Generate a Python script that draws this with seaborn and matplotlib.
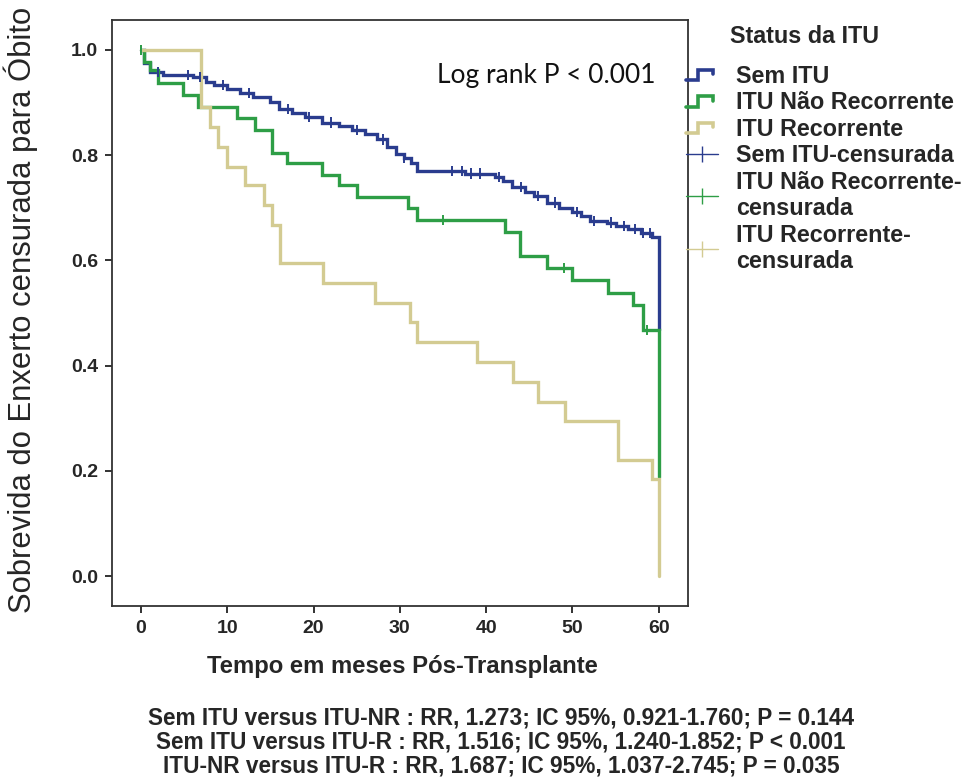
import numpy as np
import pandas as pd
import matplotlib
matplotlib.use("Agg")
import matplotlib.pyplot as plt
import seaborn as sns
from matplotlib.lines import Line2D
from matplotlib.legend_handler import HandlerBase

# ---------------- data ----------------
groups = ["Sem ITU", "ITU Não Recorrente", "ITU Recorrente"]
colors = ["#2A3C8E", "#2E9E46", "#D3CB92"]

time_sem = [0, 0.3, 1.0, 2.5, 6.0, 7.5, 8.5, 10.0, 11.5, 13.0, 15.0, 16.0, 17.5, 19.0,
            21.0, 23.0, 24.5, 26.0, 27.3, 28.5, 29.5, 30.5, 31.3, 32.0, 37.5, 41.0,
            42.0, 43.0, 44.5, 45.5, 47.0, 48.5, 50.0, 51.0, 52.0, 54.0, 55.0, 56.5,
            58.0, 59.2, 60.0]
surv_sem = [1.0, 0.975, 0.958, 0.953, 0.948, 0.940, 0.933, 0.925, 0.918, 0.910, 0.902,
            0.888, 0.880, 0.872, 0.862, 0.855, 0.848, 0.840, 0.830, 0.815, 0.803, 0.795,
            0.785, 0.770, 0.765, 0.758, 0.750, 0.740, 0.730, 0.722, 0.710, 0.700, 0.692,
            0.685, 0.675, 0.672, 0.665, 0.660, 0.652, 0.645, 0.468]

time_nr = [0, 0.3, 1.0, 2.0, 4.9, 6.6, 11.1, 13.2, 15.2, 16.9, 21.0, 23.0, 25.0, 30.9,
           32.0, 42.2, 43.9, 47.0, 50.0, 54.1, 57.0, 58.2, 60.0]
surv_nr = [1.0, 0.977, 0.962, 0.937, 0.914, 0.892, 0.871, 0.848, 0.804, 0.785, 0.762,
           0.743, 0.721, 0.700, 0.677, 0.654, 0.608, 0.585, 0.563, 0.538, 0.515, 0.468,
           0.188]

time_r = [0, 7.0, 8.0, 8.9, 10.0, 12.0, 14.2, 15.2, 16.1, 21.1, 27.1, 31.2, 32.0, 39.0,
          43.1, 46.0, 49.1, 55.3, 59.2, 60.0]
surv_r = [1.0, 0.892, 0.853, 0.816, 0.778, 0.743, 0.705, 0.667, 0.595, 0.557, 0.519,
          0.483, 0.445, 0.407, 0.369, 0.331, 0.295, 0.220, 0.184, 0.0]

censor_sem = [0.0, 2.0, 5.5, 6.8, 9.5, 12.5, 17.0, 19.5, 22.0, 25.0, 28.0, 30.5, 36.0,
              37.2, 38.2, 39.3, 41.5, 44.0, 46.0, 48.0, 50.5, 52.5, 54.5, 56.0, 57.2,
              58.2, 59.0]
censor_nr = [0.0, 35.0, 49.0, 58.6]
censor_r = []

x_ticks = [0, 10, 20, 30, 40, 50, 60]
y_ticks = [0.0, 0.2, 0.4, 0.6, 0.8, 1.0]

legend_title = "Status da ITU"
legend_labels = ["Sem ITU", "ITU Não Recorrente", "ITU Recorrente",
                 "Sem ITU-censurada", "ITU Não Recorrente-\ncensurada",
                 "ITU Recorrente-\ncensurada"]

stats_lines = [
    "Sem ITU versus ITU-NR : RR, 1.273; IC 95%, 0.921-1.760; P = 0.144",
    "Sem ITU versus ITU-R : RR, 1.516; IC 95%, 1.240-1.852; P < 0.001",
    "ITU-NR versus ITU-R : RR, 1.687; IC 95%, 1.037-2.745; P = 0.035",
]

# ---------------- build frames ----------------
curves = pd.concat([
    pd.DataFrame({"t": time_sem, "s": surv_sem, "g": groups[0]}),
    pd.DataFrame({"t": time_nr, "s": surv_nr, "g": groups[1]}),
    pd.DataFrame({"t": time_r, "s": surv_r, "g": groups[2]}),
], ignore_index=True)


def surv_at(times, survs, t):
    idx = np.searchsorted(np.asarray(times), t, side="right") - 1
    return np.asarray(survs)[idx]


cens = pd.concat([
    pd.DataFrame({"t": censor_sem, "s": surv_at(time_sem, surv_sem, censor_sem), "g": groups[0]}),
    pd.DataFrame({"t": censor_nr, "s": surv_at(time_nr, surv_nr, censor_nr), "g": groups[1]}),
], ignore_index=True)

# ---------------- plot ----------------
sns.set_style("ticks")
plt.rcParams["font.family"] = ["Liberation Sans", "DejaVu Sans"]

fig = plt.figure(figsize=(9.71, 7.83), dpi=100)
ax = fig.add_axes([112 / 971, 1 - 606 / 783, (688 - 112) / 971, (606 - 20) / 783])

palette = dict(zip(groups, colors))
sns.lineplot(data=curves, x="t", y="s", hue="g", hue_order=groups, palette=palette,
             estimator=None, drawstyle="steps-post", linewidth=2.4, legend=False, ax=ax,
             solid_joinstyle="miter")
sns.scatterplot(data=cens, x="t", y="s", hue="g", hue_order=groups, palette=palette,
                marker="|", s=55, linewidth=1.4, legend=False, ax=ax, zorder=3)

ax.set_xlim(-3.36, 63.4)
ax.set_ylim(-0.057, 1.057)
ax.set_xticks(x_ticks)
ax.set_yticks(y_ticks)
ax.set_xticklabels([str(v) for v in x_ticks], fontsize=14, fontweight="bold")
ax.set_yticklabels([f"{v:.1f}" for v in y_ticks], fontsize=14, fontweight="bold")
ax.tick_params(direction="out", length=5, width=1.3, color="#222222", pad=5)
for sp in ax.spines.values():
    sp.set_visible(True)
    sp.set_linewidth(1.3)
    sp.set_color("#333333")

ax.set_xlabel("Tempo em meses Pós-Transplante", fontsize=17.2, fontweight="bold")
ax.set_ylabel("Sobrevida do Enxerto censurada para Óbito", fontsize=22.3)
ax.xaxis.set_label_coords(0.504, -0.083)
ax.yaxis.set_label_coords(-0.128, 0.506)

ax.text(0.564, 0.906, "Log rank P < 0.001", transform=ax.transAxes, fontsize=19,
        family=["Lato", "DejaVu Sans"], va="center", ha="left", color="#111111")


# ---------------- legend ----------------
class StepHandler(HandlerBase):
    def create_artists(self, legend, orig_handle, xdescent, ydescent, width, height,
                       fontsize, trans):
        x0, y0 = -xdescent, -ydescent
        xs = x0 + width * np.array([0.0, 0.38, 0.38, 0.85, 0.85])
        ys = y0 + height * np.array([0.15, 0.15, 0.8, 0.8, 0.5])
        ln = Line2D(xs, ys, color=orig_handle.get_color(),
                    linewidth=orig_handle.get_linewidth(), solid_joinstyle="miter")
        ln.set_transform(trans)
        return [ln]


step_handles = [Line2D([], [], color=c, linewidth=2.6) for c in colors]
cens_handles = [Line2D([], [], color=c, linewidth=1.0, marker="|", markersize=12,
                       markeredgewidth=1.0) for c in colors]
handles = step_handles + cens_handles
hmap = {h: StepHandler() for h in step_handles}

leg = ax.legend(handles, legend_labels, handler_map=hmap, title=legend_title + "      ",
                loc="upper left", bbox_to_anchor=(686 / 971, 1 - 25 / 783),
                bbox_transform=fig.transFigure, frameon=False, borderpad=0,
                borderaxespad=0, handlelength=1.35, handletextpad=0.8,
                labelspacing=0.15, prop={"size": 16.8, "weight": "bold"},
                title_fontproperties={"size": 16.8, "weight": "bold"})
leg._legend_box.sep = 12
for t in leg.get_texts():
    t.set_linespacing(1.2)

# ---------------- stats text ----------------
for i, line in enumerate(stats_lines):
    fig.text(501 / 971, 1 - (718 + 24 * i) / 783, line, ha="center", va="center",
             fontsize=16.3, fontweight="bold")

fig.savefig("out.png", dpi=100)
